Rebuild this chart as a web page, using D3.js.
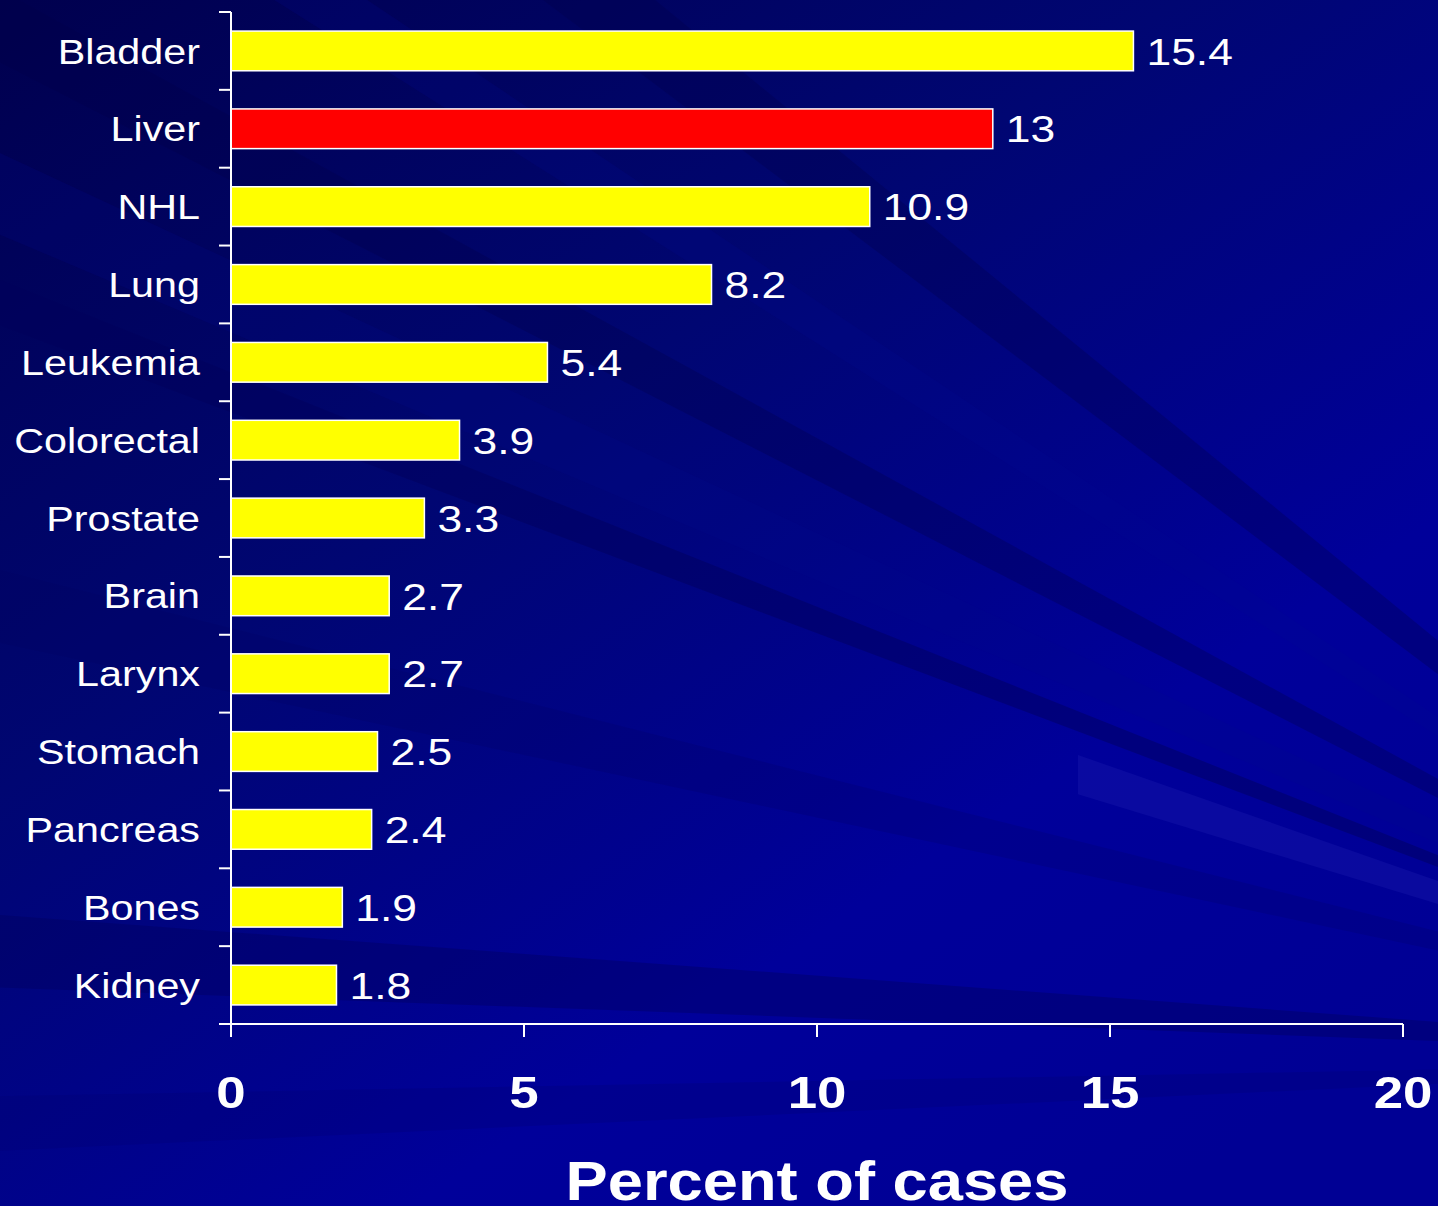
<!DOCTYPE html>
<html>
<head>
<meta charset="utf-8">
<style>
  body { margin: 0; background: #000080; }
  svg { display: block; }
  text { font-family: "Liberation Sans", Arial, sans-serif; fill: white; }
</style>
<script src="https://d3js.org/d3.v7.min.js"></script>
</head>
<body>
<svg id="chart" width="1438" height="1206"></svg>
<script>
// data
const cancers = ["Bladder", "Liver", "NHL", "Lung", "Leukemia", "Colorectal", "Prostate",
                 "Brain", "Larynx", "Stomach", "Pancreas", "Bones", "Kidney"]
const percents = [15.4, 13, 10.9, 8.2, 5.4, 3.9, 3.3, 2.7, 2.7, 2.5, 2.4, 1.9, 1.8]
const highlight = "Liver"
const xTicks = [0, 5, 10, 15, 20]

const svg = d3.select("#chart")
const W = 1438, H = 1206

// background: dark navy top-left, brighter blue bottom-right
let defs = svg.append("defs")
let grad = defs.append("linearGradient").attr("id", "bg")
    .attr("x1", 0).attr("y1", 0).attr("x2", 0.8).attr("y2", 1)
grad.append("stop").attr("offset", "0%").attr("stop-color", "#00004e")
grad.append("stop").attr("offset", "40%").attr("stop-color", "#000672")
grad.append("stop").attr("offset", "75%").attr("stop-color", "#00009a")
grad.append("stop").attr("offset", "100%").attr("stop-color", "#000094")
svg.append("rect").attr("width", W).attr("height", H).attr("fill", "url(#bg)")

// the light streak only shows on the right part of the slide
defs.append("clipPath").attr("id", "rightPart")
    .append("rect").attr("x", 1078).attr("y", 0).attr("width", 400).attr("height", H)

// streaks fan out from a point beyond the lower right corner
// each one: y where it meets x = -200 (top and bottom edge), colour, opacity
const ox = 1950, oy = 1060
const streaks = [
  {y1: -700, y2: -560, c: "#000048", o: 0.3},
  {y1: -380, y2: -300, c: "#000c90", o: 0.2},
  {y1: -120, y2: -40, c: "#00004a", o: 0.3},
  {y1: 60, y2: 150, c: "#000a8a", o: 0.2},
  {y1: 200, y2: 250, c: "#00005a", o: 0.45},
  {y1: 308, y2: 405, c: "#2222b4", o: 0.3, clip: true},
  {y1: 520, y2: 600, c: "#000060", o: 0.2},
  {y1: 900, y2: 980, c: "#000060", o: 0.4},
  {y1: 1100, y2: 1160, c: "#000070", o: 0.25}
]
svg.append("g").selectAll("path").data(streaks).join("path")
    .attr("d", s => `M${ox},${oy} L-200,${s.y1} L-200,${s.y2} Z`)
    .attr("fill", d => d.c)
    .attr("opacity", d => d.o)
    .attr("clip-path", d => d.clip ? "url(#rightPart)" : null)

// layout
const x0 = 231, x1 = 1403, yTop = 12, yBot = 1024

let xScale = d3.scaleLinear().domain([0, 20]).range([x0, x1])
let yScale = d3.scaleBand().domain(cancers).range([yTop, yBot]).paddingInner(0.49).paddingOuter(0.245)

// helper: text stretched horizontally like the original slide font
function wideText(sel, sx) {
  return sel.attr("transform", d => `translate(${d.x},${d.y}) scale(${sx},1)`)
}

// bars
svg.append("g").selectAll("rect").data(cancers).join("rect")
    .attr("x", xScale(0))
    .attr("y", d => yScale(d))
    .attr("width", (d, i) => xScale(percents[i]) - xScale(0))
    .attr("height", yScale.bandwidth())
    .attr("fill", d => d === highlight ? "#ff0000" : "#ffff00")
    .attr("stroke", "white")
    .attr("stroke-width", 1.5)

// value labels
let valPos = cancers.map((c, i) => ({x: xScale(percents[i]) + 13, y: yScale(c) + yScale.bandwidth() / 2, t: percents[i]}))
wideText(svg.append("g").selectAll("text").data(valPos).join("text"), 1.2)
    .attr("dy", "0.37em")
    .attr("font-size", 37)
    .text(d => d.t)

// category labels
let catPos = cancers.map(c => ({x: 200, y: yScale(c) + yScale.bandwidth() / 2, t: c}))
wideText(svg.append("g").selectAll("text").data(catPos).join("text"), 1.18)
    .attr("dy", "0.36em")
    .attr("text-anchor", "end")
    .attr("font-size", 35)
    .text(d => d.t)

// y axis line + ticks at category boundaries
let step = yScale.step()
let bounds = d3.range(cancers.length + 1).map(i => yTop + i * step)
let axes = svg.append("g").attr("stroke", "white").attr("stroke-width", 2)
axes.append("line").attr("x1", x0).attr("x2", x0).attr("y1", yTop).attr("y2", yBot + 13)
axes.selectAll(".yt").data(bounds).join("line").attr("class", "yt")
    .attr("x1", x0 - 12).attr("x2", x0).attr("y1", d => d).attr("y2", d => d)

// x axis
axes.append("line").attr("x1", x0 - 12).attr("x2", x1).attr("y1", yBot).attr("y2", yBot)
axes.selectAll(".xt").data(xTicks).join("line").attr("class", "xt")
    .attr("x1", d => xScale(d)).attr("x2", d => xScale(d))
    .attr("y1", yBot).attr("y2", yBot + 13)

let tickPos = xTicks.map(t => ({x: xScale(t), y: 1108, t: t}))
wideText(svg.append("g").selectAll("text").data(tickPos).join("text"), 1.2)
    .attr("text-anchor", "middle")
    .attr("font-size", 44)
    .attr("font-weight", "bold")
    .text(d => d.t)

// axis title (cut by the bottom edge, as in the original slide)
wideText(svg.append("g").selectAll("text").data([{x: (x0 + x1) / 2, y: 1200, t: "Percent of cases"}]).join("text"), 1.13)
    .attr("text-anchor", "middle")
    .attr("font-size", 56)
    .attr("font-weight", "bold")
    .text(d => d.t)
</script>
</body>
</html>
